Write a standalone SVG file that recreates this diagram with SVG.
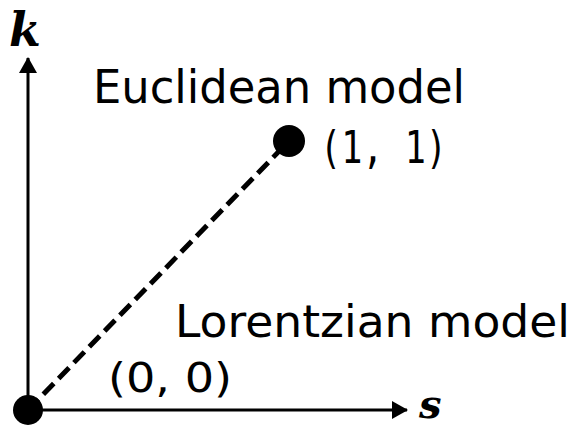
<svg xmlns="http://www.w3.org/2000/svg" width="580" height="428" viewBox="0 0 580 428">
<style>
.lbl{font-family:"DejaVu Sans","Liberation Sans",sans-serif;fill:#000}
.mono{font-family:"DejaVu Sans Mono","Liberation Mono",monospace;fill:#000}
.math{font-family:"DejaVu Serif","Liberation Serif",serif;font-weight:bold;font-style:italic;fill:#000}
.axis{stroke:#000;stroke-width:3;fill:none}
</style>
<defs>
<marker id="arr" viewBox="0 0 16 18" refX="15" refY="9" markerWidth="16" markerHeight="18" markerUnits="userSpaceOnUse" orient="auto">
<path d="M0,0 L16,9 L0,18 Z" fill="#000"/>
</marker>
</defs>
<rect width="580" height="428" fill="#fff"/>
<g id="connectors">
<line class="axis" x1="28" y1="410" x2="28" y2="58" marker-end="url(#arr)"/>
<line class="axis" x1="28" y1="410" x2="407" y2="410" marker-end="url(#arr)"/>
<line x1="28" y1="410" x2="289" y2="141" stroke="#000" stroke-width="5" stroke-dasharray="15,7"/>
</g>
<g id="origin">
<circle cx="28" cy="410" r="15" fill="#000"/>
<text class="lbl" x="108" y="392" font-size="40" textLength="124" lengthAdjust="spacingAndGlyphs">(0, 0)</text>
</g>
<g id="point11">
<circle cx="289" cy="141" r="16" fill="#000"/>
<text class="mono" x="320" y="163" font-size="44" textLength="127" lengthAdjust="spacingAndGlyphs">(1, 1)</text>
</g>
<g id="euclidean">
<text class="lbl" x="93" y="103" font-size="47" textLength="372" lengthAdjust="spacingAndGlyphs">Euclidean model</text>
</g>
<g id="lorentzian">
<text class="lbl" x="175" y="337" font-size="44" textLength="395" lengthAdjust="spacingAndGlyphs">Lorentzian model</text>
</g>
<g id="k-axis">
<text class="math" x="9" y="46" font-size="46">k</text>
</g>
<g id="s-axis">
<text class="math" x="419" y="418" font-size="40">s</text>
</g>
</svg>
